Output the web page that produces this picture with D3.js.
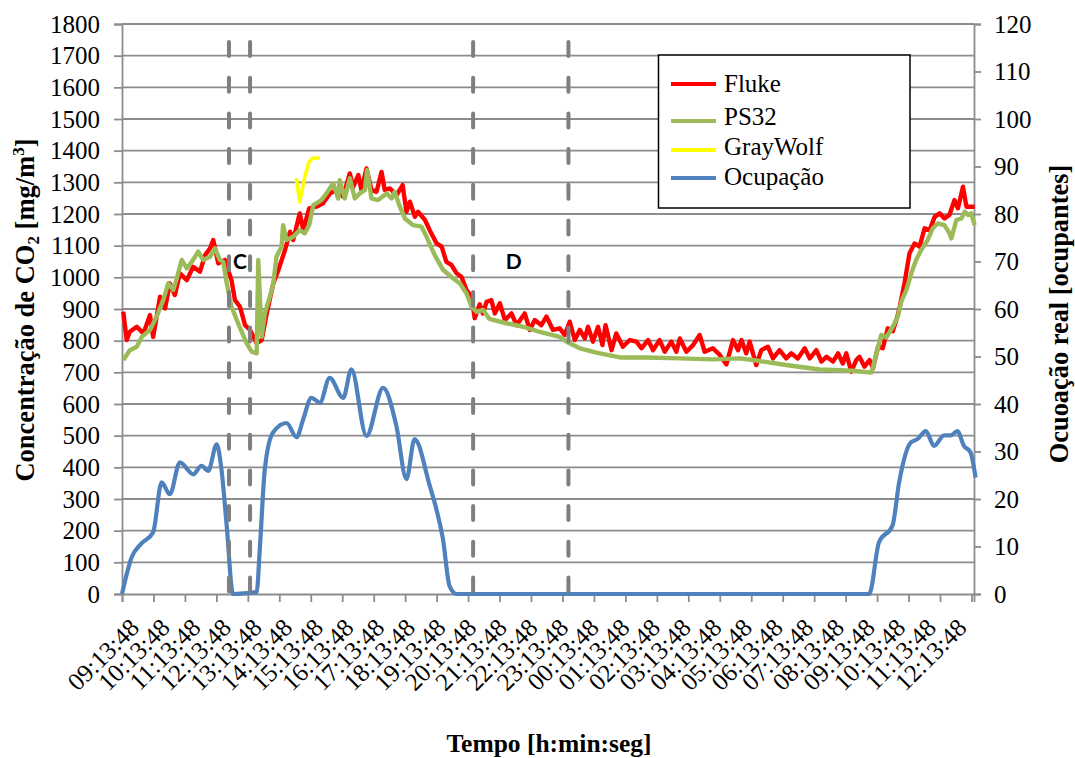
<!DOCTYPE html>
<html>
<head>
<meta charset="utf-8">
<script src="https://cdn.jsdelivr.net/npm/d3@7"></script>
<style>
  body { margin: 0; background: #fff; }
  svg text { font-family: "Liberation Serif", "Times New Roman", Times, serif; }
</style>
</head>
<body>
<svg width="1075" height="758"></svg>
<script>
// hours elapsed since 09:13:48
const timeLabels = ["09:13:48","10:13:48","11:13:48","12:13:48","13:13:48","14:13:48","15:13:48",
  "16:13:48","17:13:48","18:13:48","19:13:48","20:13:48","21:13:48","22:13:48","23:13:48",
  "00:13:48","01:13:48","02:13:48","03:13:48","04:13:48","05:13:48","06:13:48","07:13:48",
  "08:13:48","09:13:48","10:13:48","11:13:48","12:13:48"];

const fluke = [[0.04,891],[0.15,802],[0.25,828],[0.47,844],[0.68,823],[0.89,881],[0.99,812],[1.21,939],
  [1.37,902],[1.52,981],[1.68,944],[1.84,1013],[2.06,991],[2.26,1033],[2.48,1018],[2.64,1070],[2.80,1092],
  [2.90,1118],[3.06,1044],[3.27,1055],[3.48,991],[3.59,928],[3.75,907],[3.91,849],[4.07,834],[4.28,792],
  [4.44,802],[4.60,886],[4.81,981],[4.97,1023],[5.18,1086],[5.34,1144],[5.44,1118],[5.65,1202],[5.76,1149],
  [5.95,1218],[6.18,1223],[6.39,1234],[6.61,1265],[6.82,1276],[7.03,1255],[7.24,1328],[7.35,1286],[7.51,1323],
  [7.61,1276],[7.77,1344],[7.93,1276],[8.09,1270],[8.25,1333],[8.35,1276],[8.51,1281],[8.73,1260],[8.92,1291],
  [9.04,1207],[9.15,1239],[9.31,1191],[9.41,1207],[9.63,1181],[9.78,1149],[10.00,1107],[10.16,1097],
  [10.31,1049],[10.47,1039],[10.63,1013],[10.79,1002],[10.95,960],[11.11,939],[11.21,871],[11.37,915],
  [11.47,886],[11.59,923],[11.74,928],[11.85,886],[12.01,918],[12.17,865],[12.38,886],[12.54,849],[12.80,886],
  [12.96,834],[13.12,865],[13.33,849],[13.49,876],[13.70,834],[13.91,839],[14.07,818],[14.23,860],[14.39,802],
  [14.55,834],[14.71,807],[14.81,844],[14.97,797],[15.13,844],[15.27,786],[15.37,849],[15.56,770],[15.71,823],
  [15.92,781],[16.14,802],[16.35,797],[16.51,776],[16.72,802],[16.88,770],[17.09,802],[17.25,765],[17.46,797],
  [17.62,765],[17.73,807],[17.94,765],[18.15,786],[18.36,818],[18.52,765],[18.78,776],[19.00,755],[19.21,725],
  [19.42,802],[19.58,770],[19.69,802],[19.84,760],[19.95,797],[20.16,723],[20.32,770],[20.53,781],[20.69,744],
  [20.90,770],[21.11,744],[21.27,760],[21.48,744],[21.70,776],[21.86,744],[22.07,770],[22.23,734],[22.39,749],
  [22.60,734],[22.76,760],[22.91,728],[23.02,760],[23.18,702],[23.34,739],[23.44,749],[23.60,718],[23.76,739],
  [23.87,713],[24.03,781],[24.18,776],[24.34,839],[24.50,830],[24.66,881],[24.72,907],[24.87,981],[25.03,1076],
  [25.19,1107],[25.35,1097],[25.51,1155],[25.67,1149],[25.83,1191],[25.99,1202],[26.14,1186],[26.30,1197],
  [26.46,1244],[26.57,1218],[26.73,1286],[26.84,1223],[26.99,1223],[27.10,1223]];

const ps32 = [[0.04,739],[0.25,770],[0.47,781],[0.63,812],[0.89,834],[1.10,876],[1.31,928],[1.47,981],
  [1.63,960],[1.74,997],[1.90,1055],[2.06,1028],[2.26,1055],[2.42,1081],[2.58,1055],[2.80,1065],[2.95,1092],
  [3.11,1055],[3.22,1049],[3.33,981],[3.48,907],[3.69,855],[3.96,792],[4.12,765],[4.28,760],[4.33,1055],
  [4.44,812],[4.54,886],[4.70,939],[4.81,981],[4.91,1065],[5.07,1097],[5.12,1165],[5.23,1118],[5.44,1128],
  [5.65,1149],[5.81,1139],[5.95,1165],[6.08,1228],[6.34,1244],[6.50,1265],[6.71,1297],[6.87,1249],[6.92,1307],
  [7.08,1249],[7.24,1313],[7.40,1249],[7.56,1265],[7.72,1276],[7.79,1339],[7.93,1249],[8.14,1244],[8.41,1265],
  [8.57,1249],[8.67,1270],[8.83,1223],[8.99,1186],[9.25,1165],[9.52,1160],[9.68,1128],[9.94,1070],[10.21,1023],
  [10.52,997],[10.74,981],[10.95,949],[11.11,907],[11.27,891],[11.48,897],[11.67,869],[12.22,855],[12.75,844],
  [13.28,828],[13.91,812],[14.18,794],[14.55,776],[15.08,762],[15.82,747],[16.67,747],[17.73,744],[18.78,741],
  [19.63,744],[20.05,739],[21.11,723],[22.17,709],[23.23,705],[23.82,699],[23.97,755],[24.13,818],[24.29,810],
  [24.50,844],[24.66,876],[24.77,923],[24.93,960],[25.09,1013],[25.24,1055],[25.40,1086],[25.61,1118],
  [25.77,1155],[25.93,1170],[26.14,1165],[26.30,1139],[26.36,1123],[26.52,1181],[26.68,1186],[26.79,1207],
  [26.89,1197],[26.99,1202],[27.10,1165]];

const grayWolf = [[5.54,1313],[5.65,1238],[5.81,1317],[5.94,1364],[6.07,1377],[6.29,1377]];

const ocupacao = [[0,0],[0.31,7.8],[0.6,10.5],[0.99,13],[1.26,23.5],[1.52,21],[1.84,27.7],[2.26,25.2],
  [2.53,27],[2.74,25.9],[3.01,31.5],[3.16,26.3],[3.32,15],[3.53,0],[3.96,0.2],[4.28,0.4],[4.38,9.5],
  [4.54,26.3],[4.80,34],[5.23,36],[5.55,33],[5.76,36.8],[6.02,41.3],[6.29,40.3],[6.60,45.5],[7.03,41.3],
  [7.29,47.3],[7.77,33.3],[8.30,43.4],[8.72,35.4],[9.04,24.2],[9.30,32.6],[9.78,22.8],[9.99,17.9],
  [10.2,11.6],[10.41,1.7],[10.63,0],[23.75,0],[24.06,10.9],[24.49,14.4],[24.70,23.5],[25.07,31.9],
  [25.28,32.6],[25.55,34.3],[25.81,31.2],[26.13,33.4],[26.34,33.4],[26.55,34.3],[26.76,31.2],[26.97,29.8],
  [27.13,24.5]];

const markers = [3.40, 4.07, 11.16, 14.19];
const markerLabels = [{ h: 3.75, v: 1025, t: "C" }, { h: 12.45, v: 1025, t: "D" }];

const series = [
  { name: "Fluke", color: "#ff0000" },
  { name: "PS32", color: "#9bbb59" },
  { name: "GrayWolf", color: "#ffff00" },
  { name: "Ocupação", color: "#4f81bd" },
];

const svg = d3.select("svg");
const gridColor = "#8c8c8c";
const serif = "'Liberation Serif', 'Times New Roman', Times, serif";

const x = d3.scaleLinear().domain([0, 27.08]).range([122, 974]);
const yL = d3.scaleLinear().domain([0, 1800]).range([594, 24]);
const yR = d3.scaleLinear().domain([0, 120]).range([594, 24]);
// rotated labels sit a little tighter than the ticks
const labelX = d3.scaleLinear().domain([0, 27]).range([x(0) + 12, x(27) - 10]);

svg.append("rect").attr("width", 1075).attr("height", 758).attr("fill", "#fff");

// grid
svg.append("g")
  .selectAll("line")
  .data(d3.range(100, 1801, 100))
  .enter()
  .append("line")
  .attr("x1", x(0)).attr("x2", x.range()[1])
  .attr("y1", (d) => yL(d)).attr("y2", (d) => yL(d))
  .attr("stroke", gridColor).attr("stroke-width", 1.8);

// axes
const axisL = svg.append("g")
  .attr("transform", `translate(${x(0)},0)`)
  .call(d3.axisLeft(yL).tickValues(d3.range(0, 1801, 100)).tickFormat(d3.format("d")).tickSize(8).tickPadding(14));
const axisR = svg.append("g")
  .attr("transform", `translate(${x.range()[1]},0)`)
  .call(d3.axisRight(yR).tickValues(d3.range(0, 121, 10)).tickFormat(d3.format("d")).tickSize(7).tickPadding(13));
const axisB = svg.append("g")
  .attr("transform", `translate(0,${yL(0)})`)
  .call(d3.axisBottom(x).tickValues(d3.range(0, 28)).tickSize(8).tickFormat((d) => timeLabels[d]));

[axisL, axisR, axisB].forEach((g) => {
  g.attr("font-family", null);
  g.select(".domain").attr("stroke", gridColor).attr("stroke-width", 1.8);
  g.selectAll(".tick line").attr("stroke", gridColor).attr("stroke-width", 1.8);
  g.selectAll("text").style("font-family", serif).attr("font-size", 25).attr("fill", "#000");
});
axisB.selectAll("text")
  .attr("text-anchor", "end")
  .attr("transform", (d) => `translate(${labelX(d) - x(d)},29) rotate(-45)`)
  .attr("dy", "0.35em")
  .attr("y", 0)
  .attr("x", 0)
  .attr("font-size", 25);

// lines
const line = (ys) => d3.line().x((d) => x(d[0])).y((d) => ys(d[1]));

svg.append("path").datum(ocupacao)
  .attr("fill", "none").attr("stroke", series[3].color).attr("stroke-width", 4.2)
  .attr("stroke-linejoin", "round")
  .attr("d", line(yR).curve(d3.curveMonotoneX));

svg.append("path").datum(fluke)
  .attr("fill", "none").attr("stroke", series[0].color).attr("stroke-width", 4.4)
  .attr("stroke-linejoin", "round")
  .attr("d", line(yL));

svg.append("path").datum(ps32)
  .attr("fill", "none").attr("stroke", series[1].color).attr("stroke-width", 4.4)
  .attr("stroke-linejoin", "round")
  .attr("d", line(yL));

svg.append("path").datum(grayWolf)
  .attr("fill", "none").attr("stroke", series[2].color).attr("stroke-width", 3.6)
  .attr("stroke-linejoin", "round")
  .attr("d", line(yL));

// dashed markers
svg.append("g")
  .selectAll("line")
  .data(markers)
  .enter()
  .append("line")
  .attr("x1", (d) => x(d)).attr("x2", (d) => x(d))
  .attr("y1", 42).attr("y2", yL(0))
  .attr("stroke", "#7f7f7f").attr("stroke-width", 4)
  .attr("stroke-linecap", "round")
  .attr("stroke-dasharray", "14 21.7");

svg.append("g")
  .selectAll("text")
  .data(markerLabels)
  .enter()
  .append("text")
  .attr("x", (d) => x(d.h)).attr("y", (d) => yL(d.v))
  .attr("text-anchor", "middle")
  .style("font-family", "Lato, 'Open Sans', sans-serif")
  .attr("font-weight", "bold")
  .attr("font-size", 21)
  .text((d) => d.t);

// legend
const legend = svg.append("g");
legend.append("rect")
  .attr("x", 658.5).attr("y", 55).attr("width", 251.5).attr("height", 153)
  .attr("fill", "#fff").attr("stroke", "#000").attr("stroke-width", 1.5);
const rowY = [92, 125, 155, 185];
const lineOff = [-8, -4, -5, -7];
series.forEach((s, i) => {
  legend.append("line")
    .attr("x1", 671).attr("x2", 716)
    .attr("y1", rowY[i] + lineOff[i]).attr("y2", rowY[i] + lineOff[i])
    .attr("stroke", s.color).attr("stroke-width", 4);
  legend.append("text")
    .attr("x", 724).attr("y", rowY[i])
    .style("font-family", serif)
    .attr("font-size", 25)
    .text(s.name);
});

// axis titles
const tL = svg.append("text")
  .attr("transform", "translate(34,310) rotate(-90)")
  .attr("text-anchor", "middle")
  .style("font-family", serif)
  .attr("font-weight", "bold")
  .attr("font-size", 26.5);
tL.append("tspan").text("Concentração de CO");
tL.append("tspan").attr("font-size", 17).attr("dy", 5).text("2");
tL.append("tspan").attr("dy", -5).text(" [mg/m");
tL.append("tspan").attr("font-size", 17).attr("dy", -10).text("3");
tL.append("tspan").attr("dy", 10).text("]");

svg.append("text")
  .attr("transform", "translate(1068,314) rotate(-90)")
  .attr("text-anchor", "middle")
  .style("font-family", serif)
  .attr("font-weight", "bold")
  .attr("font-size", 26.4)
  .text("Ocuoação real [ocupantes]");

svg.append("text")
  .attr("x", 549).attr("y", 752)
  .attr("text-anchor", "middle")
  .style("font-family", serif)
  .attr("font-weight", "bold")
  .attr("font-size", 25.5)
  .text("Tempo [h:min:seg]");
</script>
</body>
</html>
